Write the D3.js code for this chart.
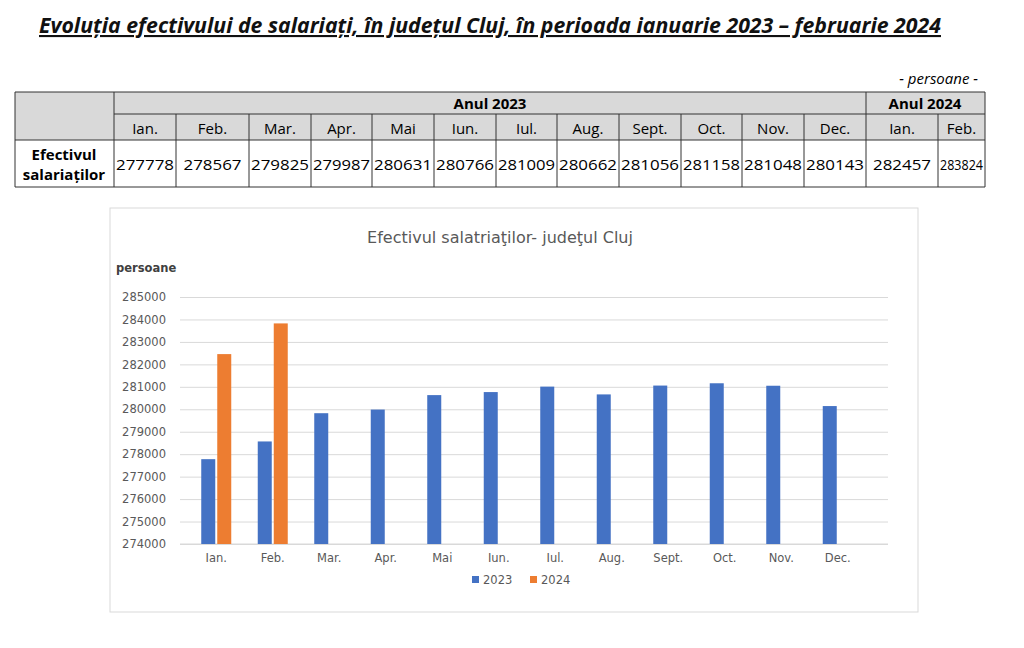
<!DOCTYPE html><html><head><meta charset="utf-8"><script src="https://cdn.jsdelivr.net/npm/d3@7"></script>
<style>body{margin:0;background:#fff}text{font-family:"Open Sans","Liberation Sans",sans-serif}</style></head><body>
<svg id="c" width="1024" height="648"></svg>
<script>
const months=["Ian.","Feb.","Mar.","Apr.","Mai","Iun.","Iul.","Aug.","Sept.","Oct.","Nov.","Dec."];
const values2023=[277778,278567,279825,279987,280631,280766,281009,280662,281056,281158,281048,280143];
const values2024=[282457,283824];
const tableCols=["Ian.","Feb.","Mar.","Apr.","Mai","Iun.","Iul.","Aug.","Sept.","Oct.","Nov.","Dec.","Ian.","Feb."];
const tableVals=values2023.concat(values2024);
const yTicks=d3.range(274000,285001,1000);
const svg=d3.select("#c");
svg.append("text").attr("x",490).attr("y",33).attr("text-anchor","middle").attr("font-size",21).attr("font-weight","bold").attr("font-style","italic").attr("text-decoration","underline").attr("fill","#111").attr("textLength",902).attr("lengthAdjust","spacingAndGlyphs").text("Evoluția efectivului de salariați, în județul Cluj, în perioada ianuarie 2023 – februarie 2024");
svg.append("text").attr("x",978).attr("y",84).attr("text-anchor","end").attr("font-size",15).attr("font-style","italic").text("- persoane -");
const colX=[114,176,249,311,372,434,496,557,619,681,742,804,866,938,985];
const g=svg.append("g");
g.append("rect").attr("x",15).attr("y",92).attr("width",970).attr("height",48).attr("fill","#d9d9d9");
const line=(x1,y1,x2,y2)=>g.append("line").attr("x1",x1).attr("y1",y1).attr("x2",x2).attr("y2",y2).attr("stroke","#333").attr("stroke-width",1);
line(15,92,985,92);line(114,114,985,114);line(15,140,985,140);line(15,187,985,187);
line(15,92,15,187);line(985,92,985,187);line(114,92,114,187);line(866,92,866,187);
colX.slice(1,-2).forEach(x=>{if(x!==866)line(x,114,x,187)});line(938,114,938,187);
g.append("text").attr("x",490).attr("y",109).attr("text-anchor","middle").attr("font-size",15).attr("font-weight","bold").text("Anul 2023");
g.append("text").attr("x",925).attr("y",109).attr("text-anchor","middle").attr("font-size",15).attr("font-weight","bold").text("Anul 2024");
tableCols.forEach((m,i)=>{const cx=(colX[i]+colX[i+1])/2;
 g.append("text").attr("x",cx).attr("y",134).attr("text-anchor","middle").attr("font-size",15).text(m);
 g.append("text").attr("x",cx).attr("y",170).attr("text-anchor","middle").attr("font-size",14.5).attr("textLength",Math.min(58,colX[i+1]-colX[i]-4)).attr("lengthAdjust","spacingAndGlyphs").text(tableVals[i]);});
g.append("text").attr("x",64).attr("y",160).attr("text-anchor","middle").attr("font-size",15).attr("font-weight","bold").text("Efectivul");
g.append("text").attr("x",64).attr("y",180).attr("text-anchor","middle").attr("font-size",15).attr("font-weight","bold").text("salariaților");
svg.append("rect").attr("x",110).attr("y",208).attr("width",808).attr("height",404).attr("fill","#fff").attr("stroke","#d9d9d9");
svg.append("text").attr("x",500).attr("y",243).attr("text-anchor","middle").attr("font-size",16).attr("fill","#595959").style("font-family","'DejaVu Sans'").text("Efectivul salatriaţilor- judeţul Cluj");
svg.append("text").attr("x",116).attr("y",272).attr("font-size",11.5).attr("font-weight","bold").attr("fill","#404040").style("font-family","'DejaVu Sans'").text("persoane");
const y=d3.scaleLinear().domain([274000,285000]).range([544,297]);
const x=d3.scaleBand().domain(months).range([188,866]);
const ga=svg.append("g").attr("transform","translate(180,0)").call(d3.axisLeft(y).tickValues(yTicks).tickSize(-708).tickFormat(d3.format("d")).tickPadding(14));
ga.select(".domain").remove();
ga.selectAll(".tick line").attr("stroke","#d9d9d9");
ga.selectAll(".tick text").attr("fill","#595959").attr("font-size",11.5).style("font-family","'DejaVu Sans'");
const gx=svg.append("g").attr("transform","translate(0,544)").call(d3.axisBottom(x).tickSize(0).tickPadding(10));
gx.select(".domain").attr("stroke","#d9d9d9").attr("d","M180,0H888");
gx.selectAll("text").attr("fill","#595959").attr("font-size",11.5).style("font-family","'DejaVu Sans'");
const bw=14;
svg.selectAll(".b23").data(values2023).join("rect").attr("x",(d,i)=>x(months[i])+x.bandwidth()/2-bw-1).attr("width",bw).attr("y",d=>y(d)).attr("height",d=>544-y(d)).attr("fill","#4472c4");
svg.selectAll(".b24").data(values2024).join("rect").attr("x",(d,i)=>x(months[i])+x.bandwidth()/2+1).attr("width",bw).attr("y",d=>y(d)).attr("height",d=>544-y(d)).attr("fill","#ed7d31");
[["2023","#4472c4",472],["2024","#ed7d31",530]].forEach(([l,c,lx])=>{
 svg.append("rect").attr("x",lx).attr("y",576).attr("width",7).attr("height",7).attr("fill",c);
 svg.append("text").attr("x",lx+11).attr("y",584).attr("font-size",11.5).attr("fill","#595959").style("font-family","'DejaVu Sans'").text(l);});
</script></body></html>
